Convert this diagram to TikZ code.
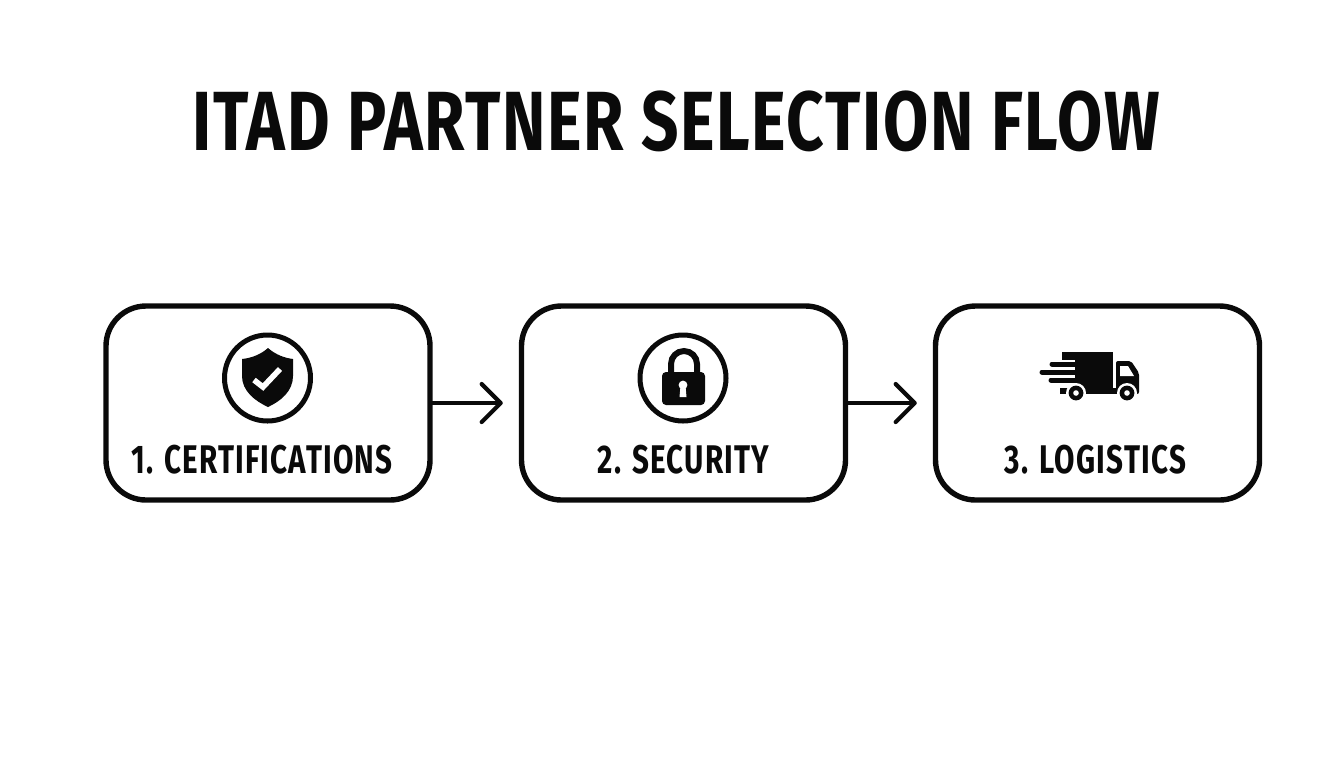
\documentclass[tikz,border=0pt]{standalone}
\usepackage{fontspec}
\usetikzlibrary{arrows.meta}
\newfontfamily\titlefont[FakeStretch=0.78,LetterSpace=2]{Fira Sans}
\newfontfamily\labelfont[FakeStretch=0.74,LetterSpace=3]{Fira Sans}
\definecolor{inkblack}{HTML}{0A0A0A}
\tikzset{
    stepbox/.style={draw=inkblack, line width=2.7pt, rounded corners=20pt, minimum width=162pt, minimum height=97pt},
    stepring/.style={circle, draw=inkblack, line width=2.5pt, minimum size=43pt, inner sep=0pt},
    steplabel/.style={text=inkblack, inner sep=0pt, font=\labelfont\bfseries\fontsize{20}{20}\selectfont},
    flowarrow/.style={draw=inkblack, line width=2.1pt, line cap=round, shorten >=8pt, -{Straight Barb[length=9.5pt,width=19pt,round]}}
}
\begin{document}
\begin{tikzpicture}[x=0.5pt, y=-0.5pt]
    \useasboundingbox (0,0) rectangle (1344,768);
    \node[text=inkblack, inner sep=0pt, font=\titlefont\bfseries\fontsize{42}{42}\selectfont] (title) at (676,121) {ITAD PARTNER SELECTION FLOW};
    \node[stepbox] (cert) at (268,403) {};
    \node[stepbox] (sec) at (683.5,403) {};
    \node[stepbox] (logi) at (1097.5,403) {};
    \draw[flowarrow] (cert) -- (sec);
    \draw[flowarrow] (sec) -- (logi);
    \node[steplabel] (certlabel) at (262,459.5) {1. CERTIFICATIONS};
    \node[steplabel] (seclabel) at (683.5,459.5) {2. SECURITY};
    \node[steplabel] (logilabel) at (1095.5,459.5) {3. LOGISTICS};
    % shield
    \node[stepring] (certring) at (267.5,378) {};
    \fill[inkblack] (268,348) .. controls (276,355) and (285,358) .. (293,359) -- (293,376) .. controls (293,391) and (281,401) .. (268,407) .. controls (255,401) and (242,391) .. (242,376) -- (242,359) .. controls (251,358) and (260,355) .. (268,348) -- cycle;
    \draw[white, line width=2.8pt] (254,380) -- (263,387) -- (280,369);
    % lock
    \node[stepring] (secring) at (683,378) {};
    \draw[inkblack, line width=3pt] (671,374) -- (671,364) arc[start angle=180, end angle=0, radius=6.5pt] -- (697,374);
    \fill[inkblack, rounded corners=2pt] (662,372) rectangle (705,405);
    \fill[white] (683,385) circle[radius=2.2pt];
    \fill[white] (680.5,386) -- (685.5,386) -- (686.5,397) -- (679.5,397) -- cycle;
    % truck
    \fill[inkblack] (1075,352) rectangle (1113,389);
    \fill[inkblack] (1062,352) rectangle (1076,360);
    \draw[inkblack, line width=2.5pt, line cap=round] (1052,364) -- (1076,364);
    \draw[inkblack, line width=2.5pt, line cap=round] (1042,372) -- (1076,372);
    \draw[inkblack, line width=2.5pt, line cap=round] (1051,380) -- (1076,380);
    \fill[inkblack] (1060,388) rectangle (1070,394);
    \fill[inkblack] (1075,388) rectangle (1125,394);
    \fill[inkblack, rounded corners=1pt] (1116,394) -- (1116,361) -- (1131,361) -- (1139,373) -- (1139,394) -- cycle;
    \fill[white] (1120,366) -- (1128,366) -- (1134,376) -- (1120,376) -- cycle;
    \foreach \wheelx in {1076,1127} {
        \fill[white] (\wheelx,393) circle[radius=5pt];
        \fill[inkblack] (\wheelx,393) circle[radius=3.7pt];
        \fill[white] (\wheelx,393) circle[radius=1.4pt];
    }
\end{tikzpicture}
\end{document}
